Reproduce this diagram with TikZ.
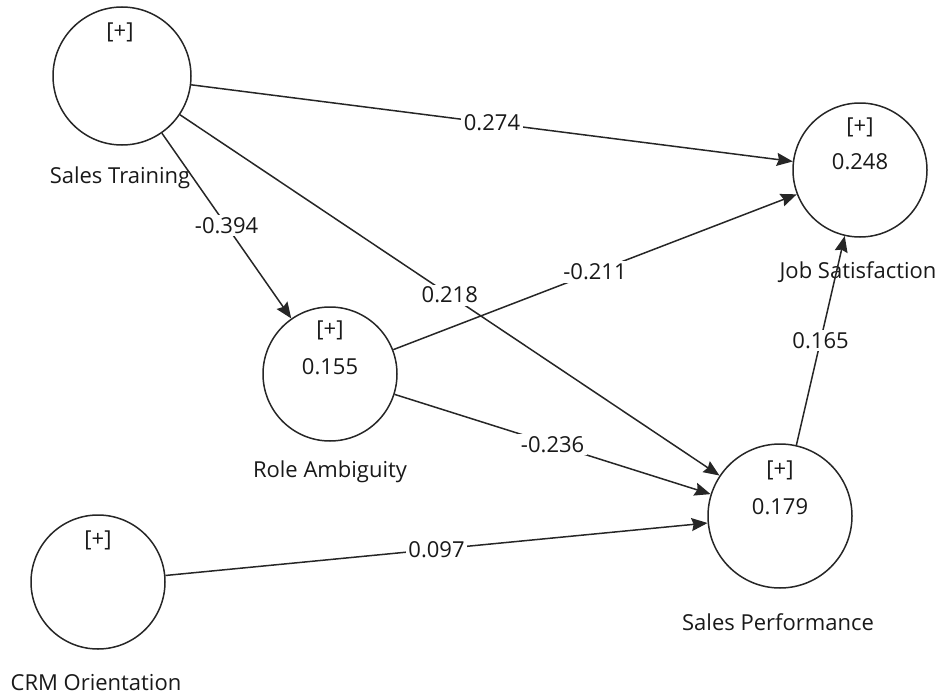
\documentclass[tikz,border=0pt]{standalone}
\usepackage{fontspec}
\setmainfont{Open Sans}
\usetikzlibrary{arrows.meta}
\begin{document}
\begin{tikzpicture}[x=1pt,y=-1pt,
  latent/.style={circle,draw=black!85,line width=1.5pt,inner sep=0pt,minimum size=#1},
  txt/.style={font=\fontsize{22}{26}\selectfont,text=black!90,inner sep=0pt},
  relpath/.style={draw=black!85,line width=1.5pt,-{Stealth[length=16pt,width=13pt,inset=2pt]}},
  coef/.style={txt,fill=white,inner sep=2.5pt}]
\useasboundingbox (0,0) rectangle (943,696);

% latent variables
\node[latent=138pt] (st)  at (122,76)  {};
\node[latent=134pt] (js)  at (860,170) {};
\node[latent=134pt] (ra)  at (330,374) {};
\node[latent=144pt] (sp)  at (780,516) {};
\node[latent=134pt] (crm) at (98,582)  {};

% indicators and R-squared values inside the circles
\node[txt] (stp)  at (120,32)  {[+]};
\node[txt] (jsp)  at (860,127) {[+]};
\node[txt] (jsr)  at (860,162) {0.248};
\node[txt] (rap)  at (330,330) {[+]};
\node[txt] (rar)  at (330,367) {0.155};
\node[txt] (spp)  at (780,470) {[+]};
\node[txt] (spr)  at (780,507) {0.179};
\node[txt] (crmp) at (98,540)  {[+]};

% construct names
\node[txt] (stn)  at (120,178) {Sales Training};
\node[txt] (jsn)  at (858,272) {Job Satisfaction};
\node[txt] (ran)  at (330,472) {Role Ambiguity};
\node[txt] (spn)  at (778,622) {Sales Performance};
\node[txt] (crmn) at (96,683)  {CRM Orientation};

% structural paths with coefficients
\draw[relpath] (st)  -- node[coef] {0.274}  (js);
\draw[relpath] (st)  -- node[coef] {-0.394} (ra);
\draw[relpath] (st)  -- node[coef] {0.218}  (sp);
\draw[relpath] (ra)  -- node[coef] {-0.211} (js);
\draw[relpath] (ra)  -- node[coef] {-0.236} (sp);
\draw[relpath] (crm) -- node[coef] {0.097}  (sp);
\draw[relpath] (sp)  -- node[coef] {0.165}  (js);
\end{tikzpicture}
\end{document}
